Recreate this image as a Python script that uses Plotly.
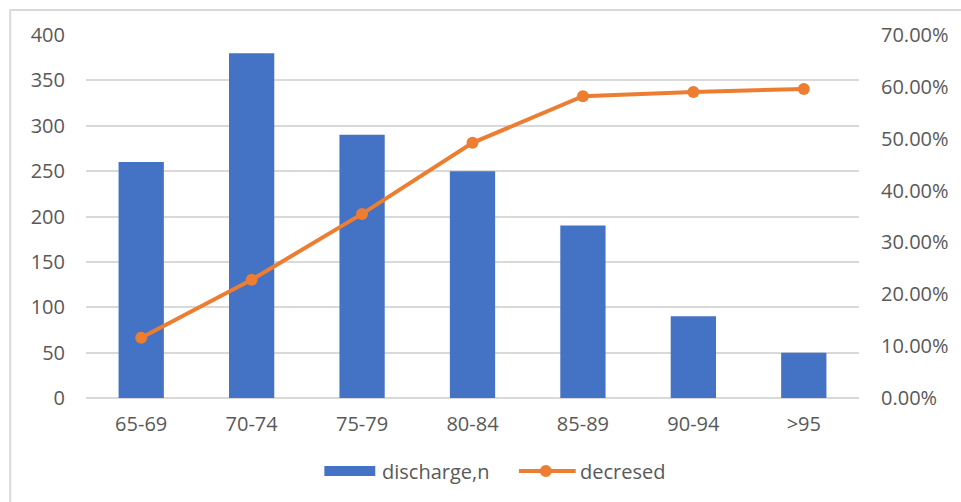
import plotly.graph_objects as go

age_groups = ["65-69", "70-74", "75-79", "80-84", "85-89", "90-94", ">95"]
discharge_n = [260, 380, 290, 250, 190, 90, 50]
decresed = [0.116, 0.228, 0.355, 0.492, 0.582, 0.590, 0.596]

left_ticks = [0, 50, 100, 150, 200, 250, 300, 350, 400]
right_ticks = [0.0, 0.1, 0.2, 0.3, 0.4, 0.5, 0.6, 0.7]

font_family = "Open Sans, Liberation Sans, sans-serif"
text_color = "#595959"
grid_color = "#D9D9D9"
bar_color = "#4472C4"
line_color = "#ED7D31"

W, H = 961, 502
L, R, T, B = 86, 100, 35, 104
PW, PH = W - L - R, H - T - B


def fx(px):
    """Pixel x -> paper x."""
    return (px - L) / PW


def fy(py):
    """Pixel y (from top) -> paper y."""
    return (H - B - py) / PH


fig = go.Figure()
fig.add_trace(go.Bar(
    x=age_groups, y=discharge_n, name="discharge,n",
    marker=dict(color=bar_color, line=dict(width=0)), width=0.41,
    showlegend=False,
))
fig.add_trace(go.Scatter(
    x=age_groups, y=decresed, name="decresed", yaxis="y2",
    mode="lines+markers",
    line=dict(color=line_color, width=4),
    marker=dict(color=line_color, size=12),
    showlegend=False,
))

# legend drawn below the plot: wide swatch for bars, line+dot for the series
legend_y = 471
shapes = [
    dict(type="rect", xref="paper", yref="paper", x0=fx(10), x1=1.3,
         y0=-0.5, y1=fy(10), line=dict(color=grid_color, width=2),
         fillcolor="rgba(0,0,0,0)", layer="below"),
    dict(type="rect", xref="paper", yref="paper", x0=fx(325), x1=fx(376),
         y0=fy(476), y1=fy(466), line=dict(width=0), fillcolor=bar_color),
    dict(type="line", xref="paper", yref="paper", x0=fx(520), x1=fx(577),
         y0=fy(legend_y), y1=fy(legend_y), line=dict(color=line_color, width=4)),
    dict(type="circle", xref="paper", yref="paper", x0=fx(541), x1=fx(553),
         y0=fy(legend_y + 6), y1=fy(legend_y - 6), line=dict(width=0),
         fillcolor=line_color),
]
annotations = [
    dict(text="discharge,n", xref="paper", yref="paper", x=fx(381), y=fy(legend_y),
         xanchor="left", yanchor="middle", showarrow=False,
         font=dict(size=20, color=text_color)),
    dict(text="decresed", xref="paper", yref="paper", x=fx(579), y=fy(legend_y),
         xanchor="left", yanchor="middle", showarrow=False,
         font=dict(size=20, color=text_color)),
]

fig.update_layout(
    width=W, height=H,
    margin=dict(l=L, r=R, t=T, b=B),
    paper_bgcolor="white", plot_bgcolor="white",
    font=dict(family=font_family, size=20, color=text_color),
    showlegend=False,
    xaxis=dict(showgrid=False, showline=False, ticks="", ticklabelstandoff=12,
               tickfont=dict(size=20, color=text_color)),
    yaxis=dict(range=[0, 400], tickvals=left_ticks, showgrid=True, gridcolor=grid_color,
               gridwidth=1.5, zeroline=True, zerolinecolor=grid_color, zerolinewidth=1.5,
               showline=False, ticks="", ticklabelstandoff=20,
               tickfont=dict(size=20, color=text_color)),
    yaxis2=dict(range=[0, 0.7], tickvals=right_ticks, tickformat=".2%", overlaying="y",
                side="right", showgrid=False, zeroline=False, showline=False, ticks="",
                ticklabelstandoff=21, tickfont=dict(size=20, color=text_color)),
    shapes=shapes,
    annotations=annotations,
)

fig.write_html("out.html")
